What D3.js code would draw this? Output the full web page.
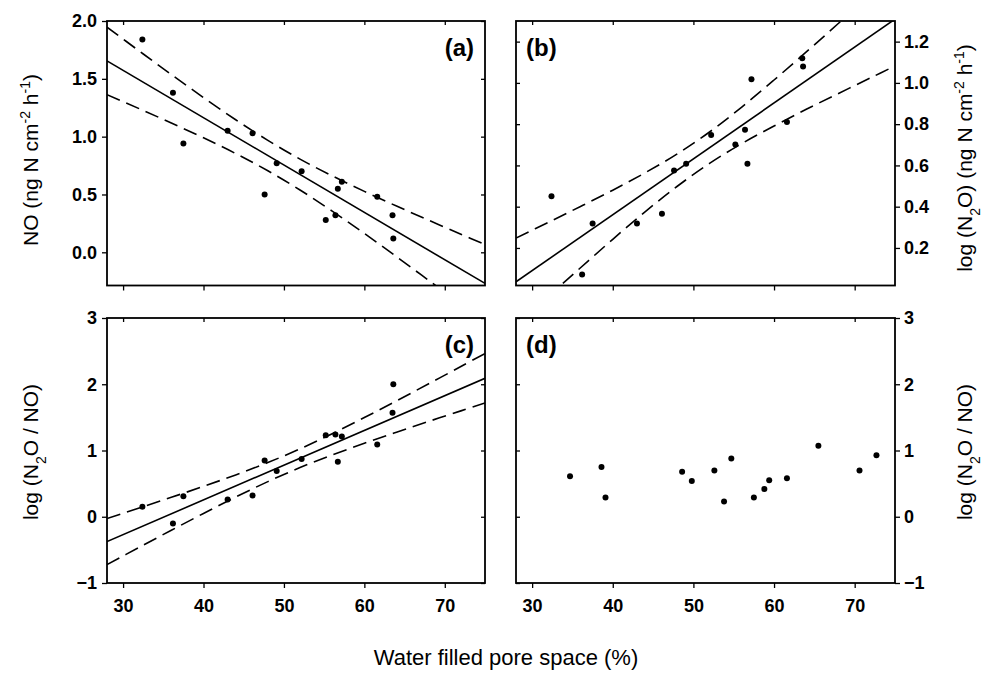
<!DOCTYPE html>
<html>
<head>
<meta charset="utf-8">
<script src="https://cdn.jsdelivr.net/npm/d3@7/dist/d3.min.js"></script>
<style>
  body { margin: 0; background: #fff; }
  svg { display: block; font-family: "Liberation Sans", Arial, Helvetica, sans-serif; }
</style>
</head>
<body>
<svg id="fig" width="984" height="673"></svg>
<script>
// ---- data -------------------------------------------------------------
// Water filled pore space (%) of the incubated soil cores used in (a)-(c)
const wfps = [32.4, 36.2, 37.5, 43.0, 46.1, 47.6, 49.1, 52.2, 55.2, 56.4, 56.7, 57.2, 61.6, 63.5, 63.6];
// (a) NO flux, ng N cm-2 h-1
const noFlux = [1.84, 1.38, 0.94, 1.05, 1.03, 0.50, 0.77, 0.70, 0.28, 0.32, 0.55, 0.61, 0.48, 0.32, 0.12];
// (b) log N2O flux
const logN2O = [0.451, 0.071, 0.319, 0.319, 0.366, 0.575, 0.608, 0.748, 0.701, 0.773, 0.608, 1.018, 0.811, 1.120, 1.079];
// (c) log(N2O/NO)
const logRatio = [0.15, -0.10, 0.31, 0.26, 0.32, 0.85, 0.69, 0.87, 1.23, 1.24, 0.83, 1.21, 1.09, 1.57, 2.00];
// (d) second soil: WFPS and log(N2O/NO)
const wfpsD = [34.7, 38.6, 39.1, 48.6, 49.8, 52.6, 53.8, 54.7, 57.5, 58.8, 59.4, 61.6, 65.5, 70.6, 72.7];
const logRatioD = [0.61, 0.75, 0.29, 0.68, 0.54, 0.70, 0.23, 0.88, 0.29, 0.42, 0.55, 0.58, 1.07, 0.70, 0.93];

// Regression lines: value at WFPS 28 and at WFPS 75
const fitX = [28, 75];
const fitA = [1.655, -0.269];
const fitB = [0.036, 1.309];
const fitC = [-0.375, 2.090];

// 95 % confidence limits of the regressions, sampled along WFPS
const bandX  = [28, 32, 36, 40, 44, 48, 52, 56, 60, 64, 68, 72, 75];
const upperA = [1.947, 1.741, 1.537, 1.338, 1.146, 0.968, 0.806, 0.661, 0.527, 0.400, 0.277, 0.157, 0.067];
const lowerA = [1.363, 1.242, 1.118, 0.990, 0.854, 0.705, 0.539, 0.356, 0.163, -0.038, -0.243, -0.449, -0.606];
const upperB = [0.248, 0.324, 0.401, 0.480, 0.564, 0.656, 0.762, 0.883, 1.014, 1.150, 1.289, 1.430, 1.536];
const lowerB = [-0.176, -0.035, 0.104, 0.242, 0.375, 0.499, 0.610, 0.706, 0.791, 0.872, 0.949, 1.025, 1.082];
const upperC = [-0.027, 0.132, 0.293, 0.459, 0.632, 0.818, 1.025, 1.254, 1.497, 1.750, 2.007, 2.268, 2.464];
const lowerC = [-0.723, -0.462, -0.204, 0.050, 0.297, 0.530, 0.742, 0.933, 1.109, 1.276, 1.439, 1.598, 1.717];

// Axis ticks
const xTicks = [30, 40, 50, 60, 70];
const yTicksA = [0.0, 0.5, 1.0, 1.5, 2.0];
const yTicksB = [0.2, 0.4, 0.6, 0.8, 1.0, 1.2];
const yTicksCD = [-1, 0, 1, 2, 3];

// ---- drawing ------------------------------------------------------------
const svg = d3.select("#fig");
const FONT = '"Liberation Sans", Arial, Helvetica, sans-serif';

function drawPanel(p) {
  const x = d3.scaleLinear().domain([28, 75]).range([p.left, p.right]);
  const y = d3.scaleLinear().domain(p.yDomain).range([p.bottom, p.top]);
  const g = svg.append("g");

  const clipId = "clip-" + p.id;
  svg.append("clipPath").attr("id", clipId)
    .append("rect").attr("x", p.left).attr("y", p.top)
    .attr("width", p.right - p.left).attr("height", p.bottom - p.top);

  const plot = g.append("g").attr("clip-path", `url(#${clipId})`);
  const line = d3.line().x(d => x(d[0])).y(d => y(d[1]));

  if (p.bands) {
    p.bands.forEach(b => {
      plot.append("path")
        .datum(bandX.map((v, i) => [v, b[i]]))
        .attr("d", line.curve(d3.curveCatmullRom))
        .attr("fill", "none").attr("stroke", "#000")
        .attr("stroke-width", 1.6).attr("stroke-dasharray", "14,7");
    });
  }
  if (p.fit) {
    plot.append("path")
      .datum(fitX.map((v, i) => [v, p.fit[i]]))
      .attr("d", line.curve(d3.curveLinear))
      .attr("fill", "none").attr("stroke", "#000").attr("stroke-width", 1.6);
  }
  plot.selectAll("circle.pt").data(p.xs.map((v, i) => [v, p.ys[i]]))
    .join("circle").attr("class", "pt")
    .attr("cx", d => x(d[0])).attr("cy", d => y(d[1]))
    .attr("r", 3).attr("fill", "#000");

  // bottom axis (outward), labels only on the lower row
  const bottomAx = d3.axisBottom(x).tickValues(xTicks).tickSize(5).tickSizeOuter(0).tickPadding(11)
    .tickFormat(p.xLabels ? d3.format("d") : () => "");
  const ab = g.append("g").attr("transform", `translate(0,${p.bottom})`).call(bottomAx);
  // top mirror ticks (inward)
  const topAx = d3.axisBottom(x).tickValues(xTicks).tickSize(4).tickSizeOuter(0).tickFormat(() => "");
  const at = g.append("g").attr("transform", `translate(0,${p.top})`).call(topAx);

  let ay, am;
  if (p.yRight) {
    ay = g.append("g").attr("transform", `translate(${p.right},0)`)
      .call(d3.axisRight(y).tickValues(p.yTicks).tickSize(5).tickSizeOuter(0).tickPadding(4).tickFormat(p.yFormat));
    am = g.append("g").attr("transform", `translate(${p.left},0)`)
      .call(d3.axisRight(y).tickValues(p.yTicks).tickSize(4).tickSizeOuter(0).tickFormat(() => ""));
  } else {
    ay = g.append("g").attr("transform", `translate(${p.left},0)`)
      .call(d3.axisLeft(y).tickValues(p.yTicks).tickSize(5).tickSizeOuter(0).tickPadding(5).tickFormat(p.yFormat));
    am = g.append("g").attr("transform", `translate(${p.right},0)`)
      .call(d3.axisLeft(y).tickValues(p.yTicks).tickSize(4).tickSizeOuter(0).tickFormat(() => ""));
  }
  [ab, at, ay, am].forEach(a => {
    a.select(".domain").remove();
    a.selectAll(".tick line").attr("stroke", "#000").attr("stroke-width", 1.3);
    a.selectAll(".tick text").attr("fill", "#000")
      .style("font-family", FONT).style("font-size", "18px").style("font-weight", "bold");
  });

  // frame
  g.append("rect").attr("x", p.left).attr("y", p.top)
    .attr("width", p.right - p.left).attr("height", p.bottom - p.top)
    .attr("fill", "none").attr("stroke", "#000").attr("stroke-width", 1.8);

  // panel letter
  g.append("text")
    .attr("x", p.labelRight ? p.right - 11 : p.left + 10)
    .attr("y", p.top + 35)
    .attr("text-anchor", p.labelRight ? "end" : "start")
    .style("font-family", FONT).style("font-size", "24px").style("font-weight", "bold")
    .text(p.label);
}

const f1 = d3.format(".1f");
drawPanel({ id: "a", left: 107, right: 485, top: 21, bottom: 285.5, yDomain: [-0.287, 2.0],
  yTicks: yTicksA, yFormat: f1, xs: wfps, ys: noFlux, fit: fitA, bands: [upperA, lowerA],
  label: "(a)", labelRight: true, xLabels: false });
drawPanel({ id: "b", left: 516, right: 895, top: 21, bottom: 285.5, yDomain: [0.018, 1.3], yRight: true,
  yTicks: yTicksB, yFormat: f1, xs: wfps, ys: logN2O, fit: fitB, bands: [upperB, lowerB],
  label: "(b)", labelRight: false, xLabels: false });
drawPanel({ id: "c", left: 107, right: 485, top: 318, bottom: 583, yDomain: [-1, 3],
  yTicks: yTicksCD, yFormat: d3.format("d"), xs: wfps, ys: logRatio, fit: fitC, bands: [upperC, lowerC],
  label: "(c)", labelRight: true, xLabels: true });
drawPanel({ id: "d", left: 516, right: 895, top: 318, bottom: 583, yDomain: [-1, 3], yRight: true,
  yTicks: yTicksCD, yFormat: d3.format("d"), xs: wfpsD, ys: logRatioD,
  label: "(d)", labelRight: false, xLabels: true });

// ---- axis titles ----------------------------------------------------------
function vTitle(cx, cy, parts) {
  const t = svg.append("text")
    .attr("transform", `translate(${cx},${cy}) rotate(-90)`)
    .attr("text-anchor", "middle")
    .style("font-family", FONT).style("font-size", "21px").attr("fill", "#000");
  parts.forEach(pt => {
    const s = t.append("tspan").text(pt.t);
    if (pt.sup) s.style("font-size", "14px").attr("baseline-shift", "super");
    if (pt.sub) s.style("font-size", "14px").attr("baseline-shift", "sub");
  });
}
vTitle(38, 160, [{ t: "NO (ng N cm" }, { t: "-2", sup: true }, { t: " h" }, { t: "-1", sup: true }, { t: ")" }]);
vTitle(38, 452, [{ t: "log (N" }, { t: "2", sub: true }, { t: "O / NO)" }]);
vTitle(972, 158, [{ t: "log (N" }, { t: "2", sub: true }, { t: "O) (ng N cm" }, { t: "-2", sup: true }, { t: " h" }, { t: "-1", sup: true }, { t: ")" }]);
vTitle(972, 452, [{ t: "log (N" }, { t: "2", sub: true }, { t: "O / NO)" }]);

svg.append("text").attr("x", 506).attr("y", 665).attr("text-anchor", "middle")
  .style("font-family", FONT).style("font-size", "22px").attr("fill", "#000")
  .text("Water filled pore space (%)");
</script>
</body>
</html>
